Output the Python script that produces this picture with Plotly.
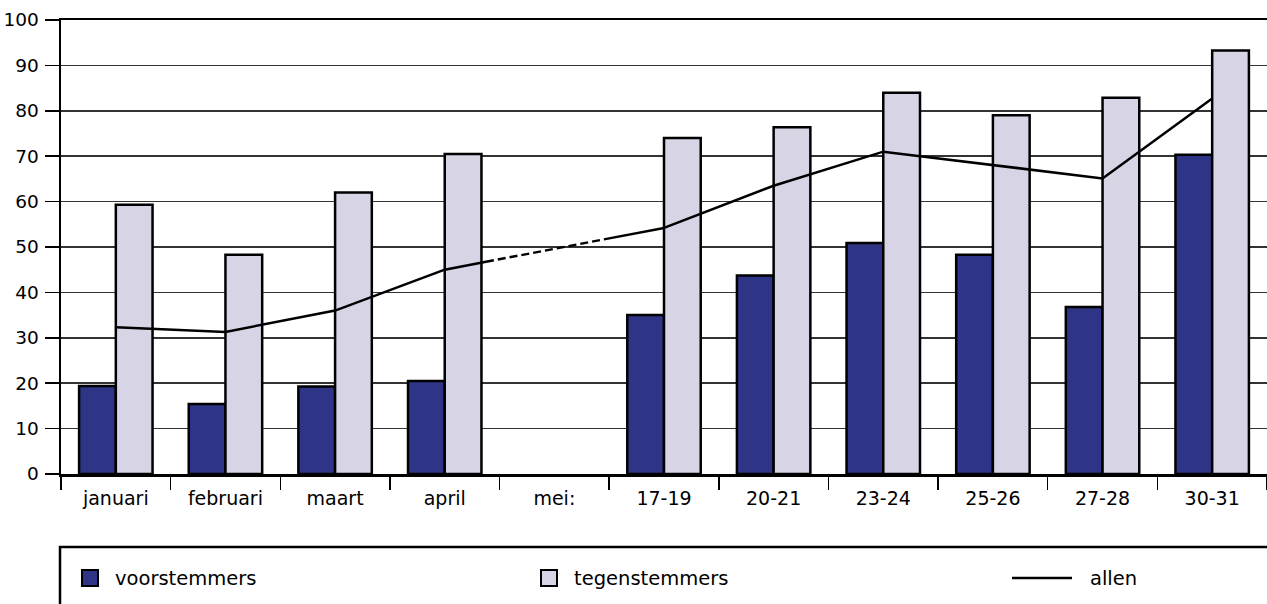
import plotly.graph_objects as go

categories = ["januari", "februari", "maart", "april", "mei:", "17-19", "20-21", "23-24", "25-26", "27-28", "30-31"]
voorstemmers = [19.4, 15.4, 19.3, 20.5, None, 35.0, 43.7, 50.9, 48.3, 36.8, 70.3]
tegenstemmers = [59.3, 48.3, 62.0, 70.5, None, 74.0, 76.4, 84.0, 79.0, 82.9, 93.3]
allen = [32.3, 31.3, 36.0, 45.0, None, 54.2, 63.5, 71.0, 68.0, 65.1, 82.7]
y_ticks = [0, 10, 20, 30, 40, 50, 60, 70, 80, 90, 100]

VOOR_C = "#2E3586"
TEGEN_C = "#D7D4E6"
FONT = "DejaVu Sans"

W, H = 1267, 604
ML, MR, MT, MB = 61, 0, 20, 130
PW, PH = W - ML - MR, H - MT - MB


def px_x(x):
    return (x - ML) / PW


def px_y(y):
    return (H - MB - y) / PH


fig = go.Figure()
fig.add_trace(go.Bar(x=categories, y=voorstemmers, name="voorstemmers",
                     marker=dict(color=VOOR_C, line=dict(color="black", width=2.5)),
                     showlegend=False))
fig.add_trace(go.Bar(x=categories, y=tegenstemmers, name="tegenstemmers",
                     marker=dict(color=TEGEN_C, line=dict(color="black", width=2.5)),
                     showlegend=False))

gap = allen.index(None)
seg1_x, seg1_y = categories[:gap], allen[:gap]
seg2_x, seg2_y = categories[gap + 1:], allen[gap + 1:]
dash_x = [categories[gap - 1], categories[gap + 1]]
dash_y = [allen[gap - 1], allen[gap + 1]]

line_style = dict(color="black", width=2.5)
fig.add_trace(go.Scatter(x=seg1_x, y=seg1_y, mode="lines", line=line_style, showlegend=False))
fig.add_trace(go.Scatter(x=seg2_x, y=seg2_y, mode="lines", line=line_style, showlegend=False))
dash_pattern = "50px,4px," + "8px,4px," * 9 + "80px"
fig.add_trace(go.Scatter(x=dash_x, y=dash_y, mode="lines",
                         line=dict(color="black", width=2.5, dash=dash_pattern),
                         showlegend=False))

shapes = []
annotations = []
# legend box
shapes.append(dict(type="rect", xref="paper", yref="paper",
                   x0=px_x(60), x1=px_x(1300), y0=px_y(547), y1=px_y(640),
                   line=dict(color="black", width=2.5), fillcolor="rgba(0,0,0,0)", layer="above"))
legend_y = 578
for x0, color, label, tx in [(82, VOOR_C, "voorstemmers", 113), (541, TEGEN_C, "tegenstemmers", 572)]:
    shapes.append(dict(type="rect", xref="paper", yref="paper",
                       x0=px_x(x0), x1=px_x(x0 + 16), y0=px_y(legend_y - 8), y1=px_y(legend_y + 8),
                       line=dict(color="black", width=2), fillcolor=color, layer="above"))
    annotations.append(dict(xref="paper", yref="paper", x=px_x(tx), y=px_y(legend_y),
                            text=label, showarrow=False, xanchor="left", yanchor="middle",
                            font=dict(family=FONT, size=19.5, color="black")))
shapes.append(dict(type="line", xref="paper", yref="paper",
                   x0=px_x(1012), x1=px_x(1072), y0=px_y(legend_y), y1=px_y(legend_y),
                   line=dict(color="black", width=2.5), layer="above"))
annotations.append(dict(xref="paper", yref="paper", x=px_x(1088), y=px_y(legend_y),
                        text="allen", showarrow=False, xanchor="left", yanchor="middle",
                        font=dict(family=FONT, size=19.5, color="black")))

fig.update_layout(
    width=W, height=H,
    margin=dict(l=ML, r=MR, t=MT, b=MB),
    paper_bgcolor="white", plot_bgcolor="white",
    barmode="group", bargap=0.33, bargroupgap=0,
    showlegend=False,
    font=dict(family=FONT, size=18, color="black"),
    shapes=shapes, annotations=annotations,
    xaxis=dict(type="category", categoryorder="array", categoryarray=categories,
               showline=True, linecolor="black", linewidth=2.5, mirror=True,
               ticks="outside", tickson="boundaries", ticklen=13, tickwidth=1.5, tickcolor="black",
               showgrid=False, tickfont=dict(family=FONT, size=19), ticklabelstandoff=6,
               fixedrange=True),
    yaxis=dict(range=[0, 100], tickvals=y_ticks, showline=True, linecolor="black", linewidth=2.5,
               ticks="outside", ticklen=14, tickwidth=1.5, tickcolor="black",
               showgrid=True, gridcolor="#333333", gridwidth=1.5, zeroline=False,
               tickfont=dict(family=FONT, size=18.5), ticklabelstandoff=2, fixedrange=True),
)

fig.write_html("out.html", config={"displayModeBar": False, "staticPlot": True},
               post_script="document.body.style.margin='0';document.body.style.overflow='hidden';")
